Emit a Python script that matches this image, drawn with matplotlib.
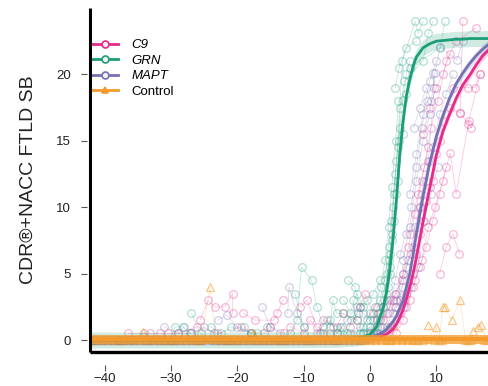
import numpy as np
import matplotlib
matplotlib.use("Agg")
import matplotlib.pyplot as plt
from matplotlib.lines import Line2D

plt.rcParams['font.family'] = ['Liberation Sans', 'DejaVu Sans']

# -----------------------------
# data: fitted curves
# -----------------------------
fit_x = [-42, -20, -10, -5, -2, -1, 0, 1, 2, 2.5, 3, 3.5, 4, 4.5, 5, 5.5, 6, 6.5,
         7, 8, 9, 10, 11, 12, 13, 14, 15, 16, 17, 18]
grn_fit = [0.0, 0.0, 0.02, 0.05, 0.15, 0.25, 0.4, 1.0, 2.4, 3.6, 5.3, 7.7, 10.6,
           14.0, 16.5, 18.4, 19.6, 20.6, 21.3, 22.0, 22.3, 22.5, 22.55, 22.6,
           22.65, 22.65, 22.7, 22.7, 22.7, 22.7]
c9_fit = [0.0, 0.0, 0.0, 0.02, 0.05, 0.08, 0.1, 0.2, 0.35, 0.45, 0.6, 0.85, 1.2,
          1.7, 2.3, 3.1, 4.0, 5.0, 6.2, 8.9, 11.4, 13.9, 15.7, 17.0, 18.2, 19.2,
          19.9, 20.7, 21.4, 21.9]
mapt_fit = [0.0, 0.0, 0.0, 0.03, 0.08, 0.12, 0.2, 0.35, 0.6, 0.8, 1.1, 1.4, 1.8,
            2.4, 3.0, 4.0, 5.0, 6.4, 8.0, 10.8, 13.3, 15.3, 16.9, 18.2, 19.3,
            20.1, 20.8, 21.4, 21.9, 22.3]
ctrl_fit = [0.05] * len(fit_x)
fit_ci = {"C9": 0.35, "GRN": 0.6, "MAPT": 0.35, "Control": 0.35}

# -----------------------------
# data: individual visits (x = years, y = score), one list per person
# -----------------------------
grn_visits = [
    [(-40, 0), (-38, 0), (-36, 0), (-33, 0), (-31, 0)],
    [(-30, 0), (-29.4, 1.0), (-28.2, 1.0), (-27, 0.5)],
    [(-26.9, 2.0), (-25.5, 0.5), (-24, 0)],
    [(-22, 0), (-20, 0), (-18, 0), (-16, 0), (-14, 0)],
    [(-19, 1.0), (-18, 0.5)],
    [(-24, 1.0), (-22.5, 0.5), (-21, 1.0), (-17, 0.5), (-15.5, 1.0)],
    [(-12, 0.5), (-11, 1.5), (-10.3, 5.5), (-8.8, 4.5), (-8, 2.5), (-7, 1.0)],
    [(-11.3, 3.5), (-10, 1), (-9, 0)],
    [(-7, 0.5), (-6, 1.5), (-5, 0.5), (-4.2, 1.0)],
    [(-6, 1.0), (-5.6, 3.0), (-5, 2.0), (-4, 2.0)],
    [(-3.3, 4.5), (-2.3, 4.0), (-1.5, 2.5), (-0.5, 3.0)],
    [(-2.6, 3.0), (-2, 1.5), (-1, 1.0), (0, 2.0)],
    [(-4.5, 1.0), (-3.5, 0.5), (-2.8, 1.5), (-1.8, 2.0)],
    [(-4.0, 3.0), (-3.0, 2.0), (-2.0, 3.5), (-1.0, 2.5), (0.5, 3.5), (1.5, 4.5)],
    [(-1.0, 0.5), (0.0, 1.0), (1.2, 2.0), (2.1, 3.0), (3.0, 5.0)],
    [(-1.5, 0.5), (-0.5, 1.5), (0.8, 2.5), (1.6, 4.0), (2.3, 6.0), (2.8, 8.5),
     (3.3, 11.5), (3.9, 15.0), (4.3, 18.0)],
    [(0.5, 1.5), (1.5, 3.0), (2.2, 4.5), (2.8, 7.0), (3.2, 9.0), (3.8, 12.5),
     (4.5, 16.0), (5.0, 18.1), (5.5, 20.0), (6.0, 21.0)],
    [(1.0, 0.5), (2.0, 2.5), (2.6, 5.0), (3.0, 6.5), (3.5, 10.0), (4.0, 13.5),
     (4.9, 21.0), (6.8, 24.0), (7.3, 23.1), (8.0, 24.0)],
    [(2.4, 3.5), (3.3, 8.0), (3.6, 11.0), (4.2, 14.5), (4.6, 17.5), (5.2, 19.5),
     (8.0, 21.0), (8.8, 23.1), (9.5, 24.0)],
    [(1.8, 1.0), (2.9, 6.0), (3.4, 7.5), (4.0, 11.0), (4.4, 15.0), (6.0, 20.5),
     (10.6, 22.0), (11.3, 24.0)],
    [(2.7, 4.0), (3.1, 5.5), (3.7, 9.0), (4.3, 12.0), (5.0, 15.5), (5.5, 18.5)],
    [(3.8, 19.0), (4.4, 20.5), (5.4, 22.0), (7.0, 22.5)],
]
c9_visits = [
    [(-36.5, 0.5), (-33.2, 0.5), (-31.7, 0.5), (-30.5, 0.5), (-27.1, 0.5)],
    [(-25.6, 1.5), (-24.4, 3.0), (-23.4, 2.5), (-21.9, 2.5), (-20.7, 3.5), (-20.7, 2.0)],
    [(-29, 0.5), (-26, 1.0), (-23, 0.5), (-19.5, 1.0), (-18, 0.5)],
    [(-19.1, 2.0), (-17.3, 1.5), (-14.5, 1.5), (-14.0, 2.0), (-13.1, 3.0)],
    [(-16, 0.5), (-15, 1.0), (-13, 0.5)],
    [(-10.5, 2.5), (-9.5, 3.0), (-8, 1.0), (-6, 0.5)],
    [(-12, 1.0), (-10, 0.5), (-9, 1.5), (-7.5, 0.5)],
    [(-7, 1.5), (-5, 1.0), (-4, 2.0), (-2, 1.5)],
    [(-3, 1.0), (-1.5, 2.5), (-0.8, 3.5), (0.5, 2.0), (1.5, 1.5)],
    [(0, 0.5), (1.0, 1.0), (2.5, 2.0), (3.8, 3.5), (4.8, 4.5), (5.8, 7.0),
     (6.8, 9.5), (7.8, 12.0), (8.8, 14.5)],
    [(1.0, 2.5), (2.5, 3.0), (4.0, 2.5), (5.2, 3.0), (6.5, 4.0), (7.5, 5.5),
     (8.5, 7.0), (9.5, 9.0), (10.5, 11.0), (11.5, 13.0)],
    [(3.0, 1.0), (4.5, 2.0), (5.5, 3.5), (6.5, 5.0), (7.5, 8.0), (8.5, 10.5),
     (9.5, 12.0), (10.5, 15.0), (12, 17.5), (13.6, 17.1), (14, 24.0)],
    [(4.0, 0.5), (5.0, 1.5), (6.0, 3.0), (7.0, 6.5), (8.0, 9.0), (9.0, 11.5),
     (10.0, 14.0), (11.0, 16.5), (12.5, 19.0), (14.8, 19.0), (15.8, 19.0), (16.6, 20.0)],
    [(5.5, 2.5), (6.8, 4.5), (7.8, 6.0), (8.8, 8.5), (9.8, 10.0), (11.0, 12.0),
     (12.1, 14.1), (13.0, 11.0), (14.9, 16.5), (15.3, 16.0)],
    [(6.0, 8.0), (7.2, 11.0), (8.2, 13.0), (9.2, 16.0), (10.2, 18.0), (11.5, 21.0),
     (13.0, 22.5), (16.0, 23.5)],
    [(8.0, 15.5), (9.0, 17.5), (10.0, 19.0), (11.0, 20.0), (12.0, 21.5)],
    [(2.0, 1.5), (3.5, 3.0), (5.0, 5.0), (6.2, 6.5), (7.5, 10.0), (9.0, 13.5)],
    [(10.5, 5.0), (11.5, 7.0), (12.5, 8.0), (13.5, 6.5)],
    [(13.6, 17.1), (14.8, 16.3), (16.6, 20.0)],
]
mapt_visits = [
    [(-38, 0), (-36, 0), (-34, 0.5), (-32, 0)],
    [(-31, 1.0), (-29, 0.5), (-28, 1.0)],
    [(-27, 0.5), (-25, 1.0), (-23.5, 0.5)],
    [(-22.9, 1.5), (-21.6, 1.9), (-20, 1.0), (-18, 0.5)],
    [(-16.3, 2.5), (-15, 1.0), (-13.5, 0.5)],
    [(-12.4, 2.0), (-12.2, 4.0), (-11, 2.0), (-10, 1.0)],
    [(-8, 0.5), (-6.5, 1.5), (-5.5, 1.0)],
    [(-5, 0.5), (-3.5, 1.5), (-2, 2.5), (-1, 2.0), (0, 1.5), (1.5, 2.0)],
    [(-3, 0.5), (-1.5, 1.0), (0, 0.5), (1, 1.5), (2, 2.5), (3, 3.0), (4, 3.0), (5, 5.0)],
    [(0.5, 0.5), (1.5, 1.0), (2.8, 2.0), (3.8, 4.5), (4.6, 6.5), (5.4, 8.0),
     (6.2, 10.0), (7.0, 13.0), (7.8, 16.0), (8.6, 18.0)],
    [(2.5, 1.0), (3.8, 2.5), (4.8, 4.0), (5.8, 6.0), (6.8, 8.5), (7.8, 11.0),
     (8.8, 13.5), (9.7, 19.0), (9.5, 20.1)],
    [(3.5, 2.0), (4.5, 3.0), (5.5, 5.5), (6.5, 7.0), (7.5, 10.0), (8.5, 12.0),
     (9.5, 14.5), (10.5, 17.0), (11.5, 18.5), (12.5, 20.0)],
    [(5.0, 6.0), (6.0, 8.5), (7.0, 12.0), (8.0, 15.0), (9.0, 17.0), (9.8, 20.1),
     (10.6, 22.1), (13.1, 21.1), (14, 22.5)],
    [(6, 11.0), (7, 14.0), (8, 17.0), (9, 19.5), (10, 21.0)],
    [(4.0, 3.5), (5.2, 2.5), (6.2, 4.0), (7.2, 5.5), (8.2, 9.0), (9.2, 11.0), (10.2, 13.0)],
    [(6.6, 16.0), (7.5, 17.5), (8.5, 19.0), (9.2, 18.0)],
]
ctrl_visits = [
    [(-42, 0), (-41.2, 0), (-40.4, 0), (-39.6, 0), (-38.8, 0), (-38, 0), (-37.2, 0),
     (-36.4, 0), (-35.6, 0), (-34.8, 0), (-34.2, 0.6), (-33.4, 0), (-32.6, 0),
     (-31.8, 0), (-31, 0), (-30.2, 0)],
    [(-29.4, 0), (-28.6, 0), (-27.8, 0), (-27, 0), (-26.2, 0), (-25.4, 0),
     (-24.1, 4.0), (-23.2, 0), (-22.4, 0), (-21.6, 0), (-20.8, 0), (-20, 0)],
    [(-19.2, 0), (-18.4, 0), (-17.6, 0.5), (-16.8, 0), (-16, 0), (-15.2, 0),
     (-14.4, 0), (-13.6, 0), (-12.8, 0), (-12, 0), (-11.2, 0), (-10.4, 0)],
    [(-9.6, 0), (-8.8, 0), (-8, 0), (-7.2, 0), (-6.4, 0), (-5.6, 0), (-4.8, 0),
     (-4, 0), (-3.2, 0), (-2.4, 0), (-1.6, 0), (-0.8, 0)],
    [(0, 0), (0.8, 0), (1.6, 0), (2.4, 0), (3.2, 0), (3.5, 1.1), (4.0, 0),
     (4.8, 0), (5.6, 0), (6.4, 0), (7.2, 0), (8, 0)],
    [(8.8, 1.1), (9.6, 0), (10.0, 1.0), (10.4, 0), (11.0, 2.5), (11.3, 2.5),
     (12.3, 1.5), (13.6, 3.0), (14.4, 0), (15.2, 0), (15.5, 0.7), (16.3, 1.0),
     (16.8, 1.1), (17.6, 0)],
    [(-41.6, 0), (-37.6, 0), (-33.8, 0), (-29.8, 0), (-25.8, 0), (-21.2, 0),
     (-17.2, 0), (-13.2, 0), (-9.2, 0), (-5.2, 0), (-1.2, 0), (2.8, 0), (6.8, 0),
     (10.8, 0), (14.8, 0), (17.2, 0)],
]

groups = ["C9", "GRN", "MAPT", "Control"]
visits = {"C9": c9_visits, "GRN": grn_visits, "MAPT": mapt_visits, "Control": ctrl_visits}
fits = {"C9": c9_fit, "GRN": grn_fit, "MAPT": mapt_fit, "Control": ctrl_fit}

colors = {"C9": "#E7298A", "GRN": "#1B9E77", "MAPT": "#7570B3", "Control": "#F39A2B"}
markers = {"C9": "o", "GRN": "o", "MAPT": "o", "Control": "^"}

fig = plt.figure(figsize=(4.88, 3.86), dpi=100)
ax = fig.add_axes([90 / 488, 34 / 386, 398 / 488, 344 / 386])

# individual trajectories first, fitted curves on top
for g in ["C9", "MAPT", "GRN", "Control"]:
    a = 0.55 if g == "Control" else 0.33
    for person in visits[g]:
        xs = [p[0] for p in person]
        ys = [p[1] for p in person]
        ax.plot(xs, ys, color=colors[g], lw=0.6, alpha=0.25, zorder=1)
        ax.plot(xs, ys, ls='none', marker=markers[g], ms=5.5, mfc='none',
                mec=colors[g], mew=0.9, alpha=a, zorder=2)

for g in ["C9", "MAPT", "GRN", "Control"]:
    fy = np.array(fits[g])
    ctrl = g == "Control"
    ax.fill_between(fit_x, fy - fit_ci[g], fy + fit_ci[g], color=colors[g],
                    alpha=0.75 if ctrl else 0.2, lw=0, zorder=5 if ctrl else 3)
    ax.plot(fit_x, fy, color=colors[g], lw=3.0 if ctrl else 2.0,
            zorder=5 if ctrl else 4, solid_capstyle='butt')

ax.set_xlim(-42.2, 17.8)
ax.set_ylim(-0.9, 25.0)
ax.set_xticks([-40, -30, -20, -10, 0, 10])
ax.set_yticks([0, 5, 10, 15, 20])

# R-like axes: thick lines, ticks set apart from them
for s in ["top", "right"]:
    ax.spines[s].set_visible(False)
ax.spines["left"].set_position(("outward", 2))
ax.spines["bottom"].set_position(("outward", 9))
ax.spines["left"].set_visible(False)
ax.spines["bottom"].set_visible(False)
ax.plot([0, 0], [0, 1], transform=ax.transAxes, color="black", lw=2.2,
        clip_on=False, zorder=6, solid_capstyle='butt')
ax.plot([0, 1], [0, 0], transform=ax.transAxes, color="black", lw=2.4,
        clip_on=False, zorder=6, solid_capstyle='butt')

ax.tick_params(axis='both', direction='out', color='#555555', width=0.8,
               labelsize=9.5, labelcolor='#222222')
ax.tick_params(axis='y', length=4.5, pad=7)
ax.tick_params(axis='x', length=4.5, pad=1.5)

ax.set_ylabel("CDR\u00ae+NACC FTLD SB", fontsize=14, color='#222222', labelpad=14)

handles = [Line2D([0], [0], color=colors[g], lw=2, marker=markers[g], ms=5,
                  mfc=colors[g] if g == "Control" else "#f0f0f0", mec=colors[g],
                  mew=1.2) for g in groups]
leg = ax.legend(handles, groups, loc='upper left', bbox_to_anchor=(0.005, 0.91),
                frameon=False, fontsize=9.5, handlelength=2.0, handletextpad=1.0,
                labelspacing=0.25, borderpad=0, borderaxespad=0)
for t in leg.get_texts()[:3]:
    t.set_fontstyle('italic')

fig.savefig("out.png", dpi=100)
